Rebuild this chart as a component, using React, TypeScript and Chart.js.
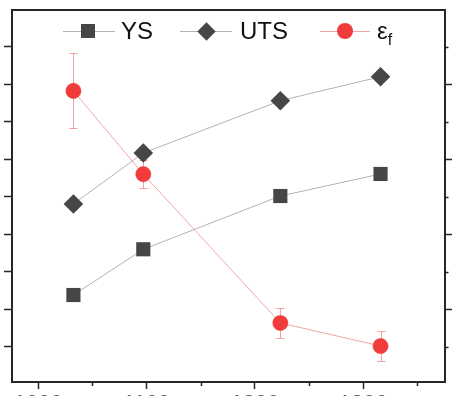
import React, { useEffect, useRef } from 'react';
import { Chart, registerables } from 'chart.js';

Chart.register(...registerables);

// ---- data ----
const xValues = [1032.4, 1096.9, 1223.4, 1315.9];
const ysValues = [218.9, 279.9, 350.9, 380.3];
const utsValues = [340.3, 408.3, 478.0, 510.0];
const efValues = [39.1, 28.0, 8.16, 5.09];
const efErrors = [5.0, 1.9, 2.0, 2.0];

// ---- axis ticks ----
const xMajorTicks = [1000, 1100, 1200, 1300];
const xMinorTicks = [1050, 1150, 1250, 1350];
const leftTicks = [150, 200, 250, 300, 350, 400, 450, 500, 550];
const rightMajorTicks = [10, 20, 30, 40];
const rightMinorTicks = [5, 15, 25, 35, 45];

const X_MIN = 975.7;
const X_MAX = 1375.4;
const Y_MIN = 102.93;
const Y_MAX = 598.93;
const Y1_MIN = 0.293;
const Y1_MAX = 49.893;

const DARK = '#464646';
const RED = '#f23b3b';
const GRAY_LINE = '#b2b2b2';
const RED_LINE = '#f5a5a5';
const ERR_COLOR = '#f2a0a0';
const AXIS = '#262626';
const FONT = '"Liberation Sans", Arial, sans-serif';

const errorBarPlugin = {
  id: 'errorBars',
  beforeDatasetsDraw(chart: any) {
    const ctx = chart.ctx;
    const xs = chart.scales.x;
    const ys = chart.scales.y1;
    ctx.save();
    ctx.strokeStyle = ERR_COLOR;
    ctx.lineWidth = 1;
    xValues.forEach((xv, i) => {
      const px = Math.round(xs.getPixelForValue(xv)) + 0.5;
      const top = ys.getPixelForValue(efValues[i] + efErrors[i]);
      const bot = ys.getPixelForValue(efValues[i] - efErrors[i]);
      ctx.beginPath();
      ctx.moveTo(px, top);
      ctx.lineTo(px, bot);
      ctx.moveTo(px - 4, Math.round(top) + 0.5);
      ctx.lineTo(px + 4, Math.round(top) + 0.5);
      ctx.moveTo(px - 4, Math.round(bot) + 0.5);
      ctx.lineTo(px + 4, Math.round(bot) + 0.5);
      ctx.stroke();
    });
    ctx.restore();
  },
};

const framePlugin = {
  id: 'frame',
  afterDraw(chart: any) {
    const ctx = chart.ctx;
    const a = chart.chartArea;
    const xs = chart.scales.x;
    const y1 = chart.scales.y1;
    ctx.save();
    ctx.strokeStyle = AXIS;
    ctx.lineWidth = 1.5;
    ctx.beginPath();
    xMinorTicks.forEach((v) => {
      const px = Math.round(xs.getPixelForValue(v)) + 0.5;
      ctx.moveTo(px, a.bottom);
      ctx.lineTo(px, a.bottom + 4);
    });
    rightMinorTicks.forEach((v) => {
      const py = Math.round(y1.getPixelForValue(v)) + 0.5;
      ctx.moveTo(a.right, py);
      ctx.lineTo(a.right + 3.5, py);
    });
    ctx.stroke();
    ctx.lineWidth = 2;
    ctx.strokeRect(a.left, a.top, a.right - a.left, a.bottom - a.top);
    ctx.restore();
  },
};

const legendText: React.CSSProperties = {
  position: 'absolute',
  fontFamily: FONT,
  fontSize: 24,
  lineHeight: '24px',
  color: '#111',
  whiteSpace: 'nowrap',
};

function Legend() {
  const line = (left: number, width: number, color: string): React.CSSProperties => ({
    position: 'absolute',
    left,
    top: 31,
    width,
    height: 1,
    background: color,
  });
  return (
    <>
      <div style={line(63, 52, GRAY_LINE)} />
      <div style={{ position: 'absolute', left: 81, top: 24, width: 14, height: 14, background: DARK }} />
      <span style={{ ...legendText, left: 121, top: 19 }}>YS</span>

      <div style={line(180, 52, GRAY_LINE)} />
      <div
        style={{
          position: 'absolute',
          left: 199.5,
          top: 24.5,
          width: 13,
          height: 13,
          background: DARK,
          transform: 'rotate(45deg)',
        }}
      />
      <span style={{ ...legendText, left: 240, top: 19 }}>UTS</span>

      <div style={line(320, 50, RED_LINE)} />
      <div
        style={{
          position: 'absolute',
          left: 337,
          top: 23,
          width: 16,
          height: 16,
          borderRadius: '50%',
          background: RED,
        }}
      />
      <span style={{ ...legendText, left: 377, top: 19 }}>
        ε<sub style={{ fontSize: 16, verticalAlign: '-6px', lineHeight: 0 }}>f</sub>
      </span>
    </>
  );
}

export default function App() {
  const canvasRef = useRef<HTMLCanvasElement | null>(null);

  useEffect(() => {
    const canvas = canvasRef.current;
    if (!canvas) return;
    const chart = new Chart(canvas, {
      type: 'line',
      data: {
        datasets: [
          {
            label: 'YS',
            data: xValues.map((x, i) => ({ x, y: ysValues[i] })),
            yAxisID: 'y',
            borderColor: GRAY_LINE,
            borderWidth: 1,
            pointStyle: 'rect',
            pointRadius: 10,
            pointBackgroundColor: DARK,
            pointBorderColor: DARK,
            pointBorderWidth: 0,
          },
          {
            label: 'UTS',
            data: xValues.map((x, i) => ({ x, y: utsValues[i] })),
            yAxisID: 'y',
            borderColor: GRAY_LINE,
            borderWidth: 1,
            pointStyle: 'rectRot',
            pointRadius: 9.8,
            pointBackgroundColor: DARK,
            pointBorderColor: DARK,
            pointBorderWidth: 0,
          },
          {
            label: 'εf',
            data: xValues.map((x, i) => ({ x, y: efValues[i] })),
            yAxisID: 'y1',
            borderColor: RED_LINE,
            borderWidth: 1,
            pointStyle: 'circle',
            pointRadius: 7.6,
            pointBackgroundColor: RED,
            pointBorderColor: '#e83434',
            pointBorderWidth: 0.5,
          },
        ],
      },
      options: {
        responsive: false,
        animation: false,
        devicePixelRatio: 1,
        layout: { padding: { top: 10, left: 0, right: 0, bottom: 0 } },
        plugins: { legend: { display: false }, tooltip: { enabled: false } },
        elements: { line: { tension: 0 } },
        scales: {
          x: {
            type: 'linear',
            position: 'bottom',
            min: X_MIN,
            max: X_MAX,
            afterBuildTicks: (s: any) => {
              s.ticks = xMajorTicks.map((v) => ({ value: v }));
            },
            afterFit: (s: any) => {
              s.height = 48;
            },
            grid: {
              drawOnChartArea: false,
              drawTicks: true,
              tickLength: 7,
              tickColor: AXIS,
              tickWidth: 1.5,
            },
            border: { display: false },
            ticks: {
              autoSkip: false,
              maxRotation: 0,
              padding: 2,
              color: '#555',
              font: { size: 22, family: FONT },
              callback: (v: any) => String(v),
            },
          },
          y: {
            type: 'linear',
            position: 'left',
            min: Y_MIN,
            max: Y_MAX,
            afterBuildTicks: (s: any) => {
              s.ticks = leftTicks.map((v) => ({ value: v }));
            },
            afterFit: (s: any) => {
              s.width = 12;
            },
            grid: {
              drawOnChartArea: false,
              drawTicks: true,
              tickLength: 8,
              tickColor: AXIS,
              tickWidth: 1.5,
            },
            border: { display: false },
            ticks: { display: false },
          },
          y1: {
            type: 'linear',
            position: 'right',
            min: Y1_MIN,
            max: Y1_MAX,
            afterBuildTicks: (s: any) => {
              s.ticks = rightMajorTicks.map((v) => ({ value: v }));
            },
            afterFit: (s: any) => {
              s.width = 11;
            },
            grid: {
              drawOnChartArea: false,
              drawTicks: true,
              tickLength: 7,
              tickColor: AXIS,
              tickWidth: 1.5,
            },
            border: { display: false },
            ticks: { display: false },
          },
        },
      },
      plugins: [errorBarPlugin, framePlugin],
    } as any);
    return () => chart.destroy();
  }, []);

  return (
    <div style={{ position: 'fixed', left: 0, top: 0, width: 456, height: 430, background: '#fff' }}>
      <canvas ref={canvasRef} width={456} height={430} style={{ display: 'block', width: 456, height: 430 }} />
      <Legend />
    </div>
  );
}
